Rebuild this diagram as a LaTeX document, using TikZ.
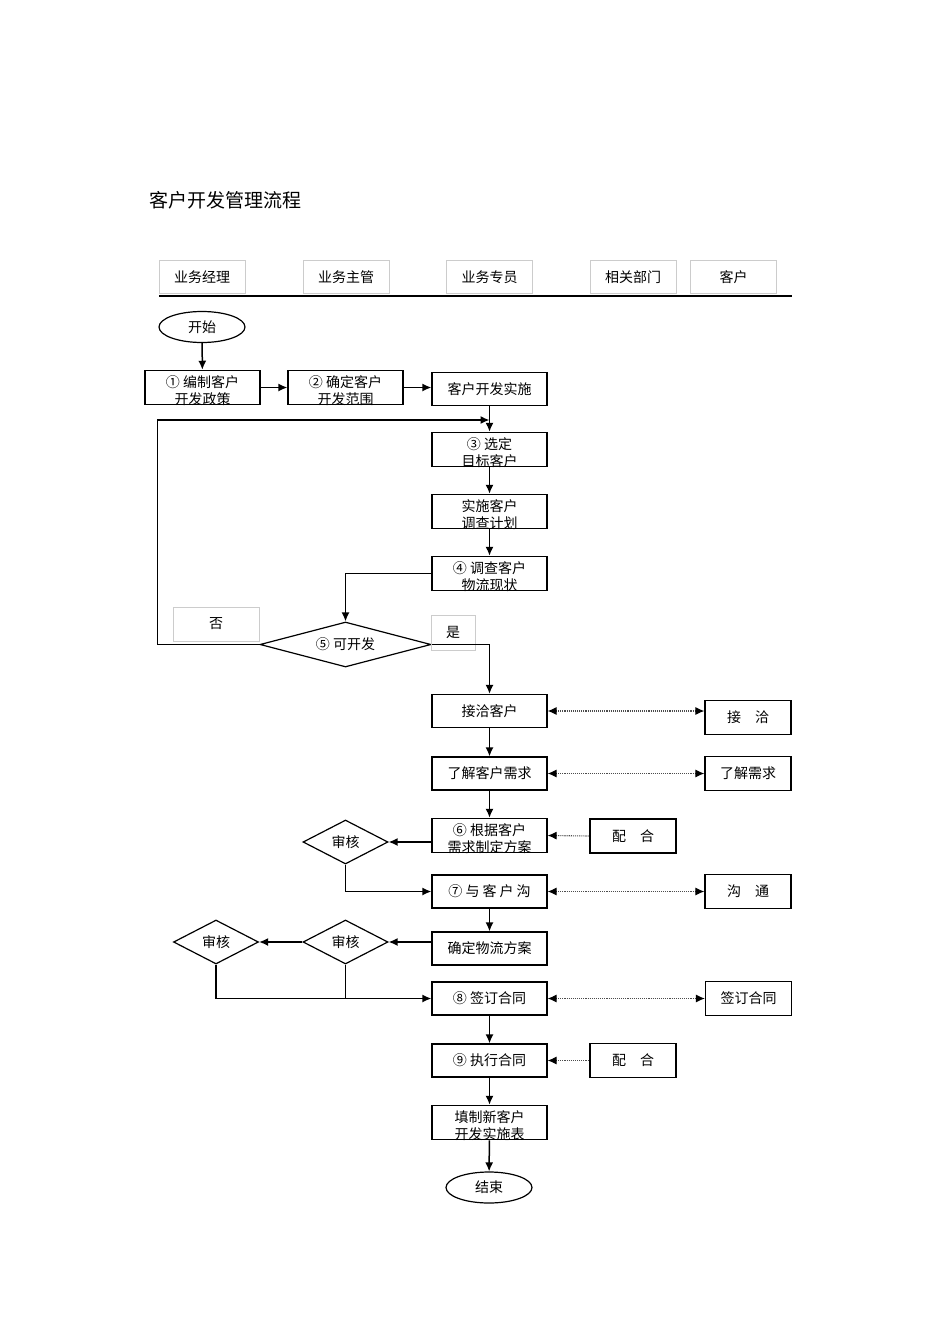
\documentclass[tikz,border=0pt]{standalone}
\usepackage{fontspec}
\setmainfont{Noto Sans CJK SC}
\usetikzlibrary{shapes.geometric, positioning, arrows, arrows.meta}

\begin{document}
\begin{tikzpicture}[x=1pt,y=-1pt,->,>={Latex[length=9pt,width=8pt]},line width=1.5pt,
    font=\fontsize{14}{17}\selectfont,
    box/.style={draw,-,line width=1.2pt,rectangle,minimum width=115pt,minimum height=33pt,inner sep=0pt,align=center},
    twoline/.style={text height=34.3pt,text depth=-1.3pt},
    role/.style={draw=gray!40,-,line width=0.8pt,minimum width=86pt,minimum height=33pt,inner sep=0pt},
    side/.style={draw,-,line width=1.2pt,minimum width=86pt,minimum height=34pt,inner sep=0pt},
    check/.style={draw,-,line width=1.2pt,diamond,shape aspect=2,minimum width=85pt,minimum height=44pt,inner sep=0pt},
    term/.style={draw,-,line width=1.2pt,ellipse,minimum width=86pt,minimum height=31pt,inner sep=0pt},
    link/.style={{Latex[color=black,length=9pt,width=8pt]}-{Latex[color=black,length=9pt,width=8pt]},
      densely dotted,line width=1.1pt,gray!60!black},
    feed/.style={{Latex[color=black,length=9pt,width=8pt]}-,densely dotted,line width=1.1pt,gray!60!black}]
  \useasboundingbox (0,0) rectangle (950,1344);

  \node[anchor=west,font=\fontsize{19}{22}\selectfont] (title) at (145,200) {客户开发管理流程};

  % header row
  \node[role] (mgr)  at (202,277)   {业务经理};
  \node[role] (sup)  at (346,277)   {业务主管};
  \node[role] (spec) at (489.5,277) {业务专员};
  \node[role] (dept) at (633,277)   {相关部门};
  \node[role] (cust) at (733.5,277) {客户};
  \draw[-,line width=1.2pt] (159,296) -- (792,296);

  \node[term] (start) at (202,327) {开始};
  \node[box,twoline] (s1) at (202.5,387.5) {①\ 编制客户\\开发政策};
  \node[box,twoline] (s2) at (345.5,387.5) {②\ 确定客户\\开发范围};
  \node[box] (impl) at (489.5,389) {客户开发实施};
  \node[box,twoline] (s3) at (489.5,449.5) {③\ 选定\\目标客户};
  \node[box,twoline] (plan) at (489.5,511.5) {实施客户\\调查计划};
  \node[box,twoline] (s4) at (489.5,573.5) {④\ 调查客户\\物流现状};
  \node[check,shape aspect=3.8,minimum width=171pt,minimum height=45pt] (s5) at (345.5,644.5) {⑤\ 可开发};
  \node[role,minimum height=34pt] (no) at (216,624) {否};
  \node[role,minimum width=44pt,minimum height=35pt] (yes) at (453,632.5) {是};

  \node[box] (meet) at (489.5,711) {接洽客户};
  \node[side] (cmeet) at (748,717.5) {接\quad 洽};
  \node[box] (need) at (489.5,773.5) {了解客户需求};
  \node[side] (cneed) at (748,773.5) {了解需求};
  \node[box,twoline] (s6) at (489.5,835.5) {⑥\ 根据客户\\需求制定方案};
  \node[check] (chk1) at (345.5,842) {审核};
  \node[side] (help1) at (633,836) {配\quad 合};
  \node[box] (s7) at (489.5,891.5) {⑦\ 与\hspace{3pt}客\hspace{3pt}户\hspace{3pt}沟};
  \node[side] (ctalk) at (748,891.5) {沟\quad 通};
  \node[box] (logi) at (489.5,948.5) {确定物流方案};
  \node[check] (chk2) at (345.5,942) {审核};
  \node[check] (chk3) at (216,942) {审核};
  \node[box] (s8) at (489.5,998.5) {⑧\ 签订合同};
  \node[side] (csign) at (748.5,998.5) {签订合同};
  \node[box] (s9) at (489.5,1060.5) {⑨\ 执行合同};
  \node[side] (help2) at (633,1060.5) {配\quad 合};
  \node[box,twoline] (form) at (489.5,1122.5) {填制新客户\\开发实施表};
  \node[term] (stop) at (489,1187.5) {结束};

  \coordinate (back) at (489.5,420);

  \draw (start) -- (s1);
  \draw (s1) -- (s2);
  \draw (s2) -- (impl.west |- s2);
  \draw (impl) -- (s3);
  \draw (s5.west) -- ++(-102,0) |- (back);
  \draw (s3) -- (plan);
  \draw (plan) -- (s4);
  \draw (s4.west) -| (s5.north);
  \draw (s5.east) -| (meet.north);
  \draw (meet) -- (need);
  \draw (need) -- (s6);
  \draw[link] (meet.east) -- (meet.east -| cmeet.west);
  \draw[link] (need.east) -- (cneed.west);
  \draw[feed] (s6.east) -- (help1.west);
  \draw (s6.west |- chk1) -- (chk1.east);
  \draw (chk1.south) |- (s7.west);
  \draw[link] (s7.east) -- (ctalk.west);
  \draw (s7) -- (logi);
  \draw (logi.west |- chk2) -- (chk2.east);
  \draw (chk2.west) -- (chk3.east);
  \draw (chk3.south) |- (s8.west);
  \draw[-] (chk2.south) -- (chk2.south |- s8.west);
  \draw[link] (s8.east) -- (csign.west);
  \draw (s8) -- (s9);
  \draw[feed] (s9.east) -- (help2.west);
  \draw (s9) -- (form);
  \draw (form) -- (stop);
\end{tikzpicture}
\end{document}
